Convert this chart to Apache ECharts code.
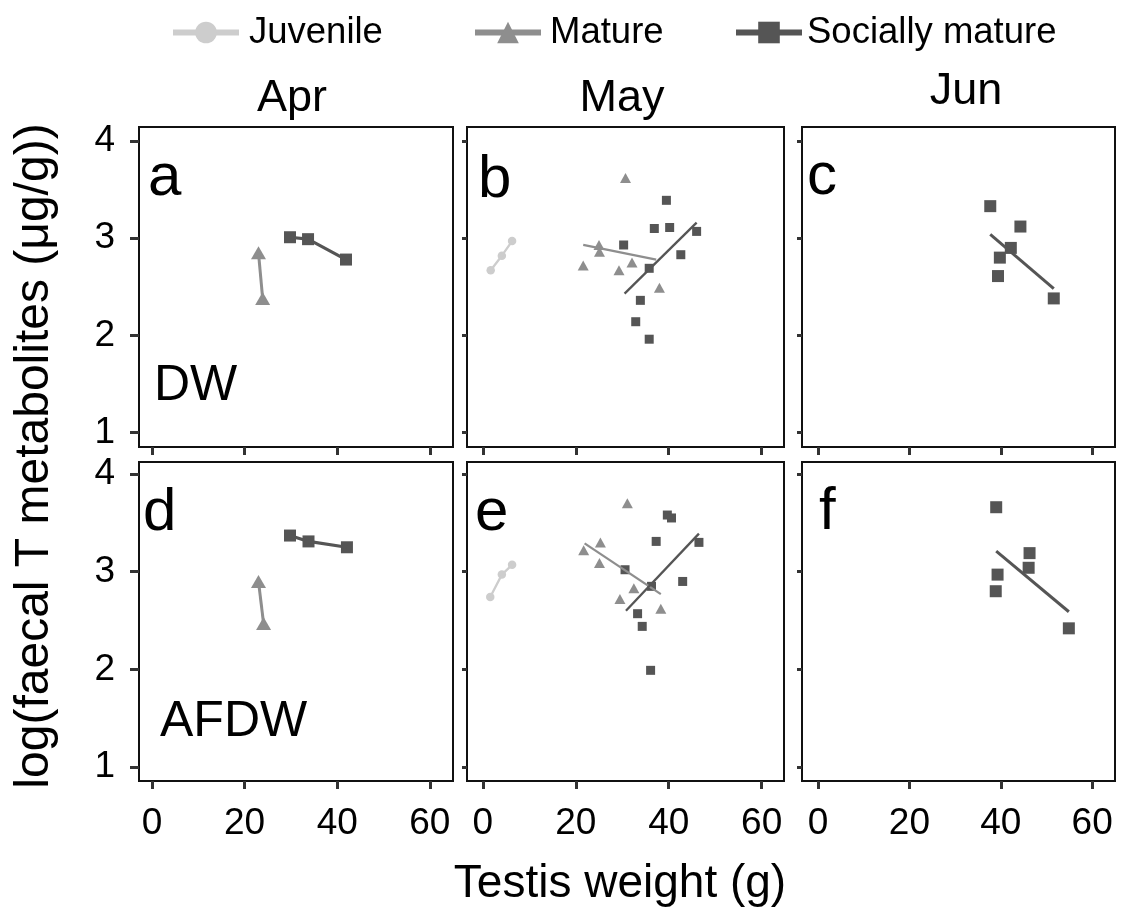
<!DOCTYPE html>
<html>
<head>
<meta charset="utf-8">
<script src="https://cdn.jsdelivr.net/npm/echarts@6/dist/echarts.min.js"></script>
<style>
html,body{margin:0;padding:0;background:#fff;}
#chart{width:1122px;height:923px;}
</style>
</head>
<body>
<div id="chart"></div>
<script>
// ---------------- DATA ----------------
const months = ['Apr', 'May', 'Jun'];
const groups = ['Juvenile', 'Mature', 'Socially mature'];
const xTicks = [0, 20, 40, 60];
const yTicks = [1, 2, 3, 4];
const panelLetters = ['a', 'b', 'c', 'd', 'e', 'f'];
const rowLabels = ['DW', 'AFDW'];

// Panel a (Apr, DW)
const aMatX = [23.0, 23.9];
const aMatY = [2.85, 2.38];
const aSocX = [29.8, 33.7, 41.9];
const aSocY = [3.01, 2.99, 2.78];

// Panel b (May, DW)
const bJuvX = [1.7, 4.1, 6.3];
const bJuvY = [2.67, 2.82, 2.97];
const bMatX = [30.7, 25.0, 25.1, 21.6, 29.3, 32.1, 38.0];
const bMatY = [3.62, 2.93, 2.86, 2.72, 2.67, 2.75, 2.49];
const bMatFitX = [21.6, 37.3];
const bMatFitY = [2.93, 2.78];
const bSocX = [39.5, 36.9, 40.2, 46.0, 30.3, 42.6, 35.8, 33.9, 32.9, 35.8];
const bSocY = [3.39, 3.10, 3.11, 3.07, 2.93, 2.83, 2.69, 2.36, 2.14, 1.96];
const bSocFitX = [30.5, 46.0];
const bSocFitY = [2.43, 3.16];

// Panel c (Jun, DW)
const cSocX = [37.7, 44.3, 42.2, 39.8, 39.4, 51.6];
const cSocY = [3.33, 3.12, 2.90, 2.80, 2.61, 2.38];
const cSocFitX = [37.7, 51.6];
const cSocFitY = [3.04, 2.48];

// Panel d (Apr, AFDW)
const dMatX = [23.0, 24.1];
const dMatY = [2.90, 2.47];
const dSocX = [29.8, 33.8, 42.1];
const dSocY = [3.37, 3.31, 3.25];

// Panel e (May, AFDW)
const eJuvX = [1.6, 4.1, 6.3];
const eJuvY = [2.74, 2.97, 3.07];
const eMatX = [31.1, 25.3, 21.7, 25.1, 32.5, 29.5, 38.3];
const eMatY = [3.70, 3.30, 3.22, 3.09, 2.83, 2.72, 2.62];
const eMatFitX = [21.9, 38.3];
const eMatFitY = [3.29, 2.77];
const eSocX = [39.7, 40.6, 37.3, 46.5, 30.6, 36.3, 43.0, 33.3, 34.3, 36.1];
const eSocY = [3.58, 3.55, 3.31, 3.30, 3.02, 2.85, 2.90, 2.57, 2.44, 1.99];
const eSocFitX = [30.8, 46.5];
const eSocFitY = [2.60, 3.39];

// Panel f (Jun, AFDW)
const fSocX = [39.0, 46.3, 46.1, 39.3, 38.9, 54.9];
const fSocY = [3.66, 3.19, 3.04, 2.97, 2.80, 2.42];
const fSocFitX = [39.0, 54.9];
const fSocFitY = [3.21, 2.59];

// ---------------- STYLE / LAYOUT ----------------
const FONT = "'Liberation Sans', Arial, Helvetica, sans-serif";
const COL = { Juvenile: '#cdcdcd', Mature: '#8e8e8e', 'Socially mature': '#555555' };
const SYM = { Juvenile: 'circle', Mature: 'triangle', 'Socially mature': 'rect' };

const cols = [
  { left: 139, width: 314, xmin: -2.8, xmax: 65.0, ytick: 9 },
  { left: 467, width: 317, xmin: -3.4, xmax: 64.8, ytick: 5 },
  { left: 802, width: 313, xmin: -3.5, xmax: 65.0, ytick: 5 }
];
const rows = [
  { top: 127, height: 320, ymin: 0.85, ymax: 4.145 },
  { top: 462, height: 319, ymin: 0.857, ymax: 4.123 }
];

function pts(xs, ys) { return xs.map((x, i) => [x, ys[i]]); }

const panels = [
  { points: [['Mature', aMatX, aMatY, [15, 13]], ['Socially mature', aSocX, aSocY, 12]],
    lines: [['Mature', aMatX, aMatY, 3], ['Socially mature', aSocX, aSocY, 3.2]], linesOnTop: false },
  { points: [['Juvenile', bJuvX, bJuvY, 8.5], ['Mature', bMatX, bMatY, [11, 10]], ['Socially mature', bSocX, bSocY, 9]],
    lines: [['Juvenile', bJuvX, bJuvY, 2.3], ['Mature', bMatFitX, bMatFitY, 2.3], ['Socially mature', bSocFitX, bSocFitY, 2.3]], linesOnTop: true },
  { points: [['Socially mature', cSocX, cSocY, 12]],
    lines: [['Socially mature', cSocFitX, cSocFitY, 3]], linesOnTop: true },
  { points: [['Mature', dMatX, dMatY, [15, 13]], ['Socially mature', dSocX, dSocY, 12]],
    lines: [['Mature', dMatX, dMatY, 3], ['Socially mature', dSocX, dSocY, 3.2]], linesOnTop: false },
  { points: [['Juvenile', eJuvX, eJuvY, 8.5], ['Mature', eMatX, eMatY, [11, 10]], ['Socially mature', eSocX, eSocY, 9]],
    lines: [['Juvenile', eJuvX, eJuvY, 2.3], ['Mature', eMatFitX, eMatFitY, 2.3], ['Socially mature', eSocFitX, eSocFitY, 2.3]], linesOnTop: true },
  { points: [['Socially mature', fSocX, fSocY, 12]],
    lines: [['Socially mature', fSocFitX, fSocFitY, 3]], linesOnTop: true }
];

const grids = [], xAxes = [], yAxes = [], series = [];

// dummy series for legend
groups.forEach(g => {
  series.push({
    name: g, type: 'line', xAxisIndex: 0, yAxisIndex: 0, data: [],
    symbol: SYM[g], symbolSize: 20,
    itemStyle: { color: COL[g] }, lineStyle: { color: COL[g], width: 6 }
  });
});

panels.forEach((p, i) => {
  const r = Math.floor(i / 3), c = i % 3;
  const col = cols[c], row = rows[r];
  grids.push({
    left: col.left, top: row.top, width: col.width, height: row.height,
    show: true, borderColor: '#111', borderWidth: 2, backgroundColor: '#fff'
  });
  xAxes.push({
    type: 'value', gridIndex: i, min: col.xmin, max: col.xmax, position: 'bottom',
    axisLine: { show: false, onZero: false }, splitLine: { show: false },
    axisTick: { show: true, customValues: xTicks, length: 8, lineStyle: { color: '#333', width: 3 } },
    axisLabel: { show: r === 1, customValues: xTicks, fontSize: 37, fontFamily: FONT, color: '#000', margin: 24 }
  });
  yAxes.push({
    type: 'value', gridIndex: i, min: row.ymin, max: row.ymax, position: 'left',
    axisLine: { show: false, onZero: false }, splitLine: { show: false },
    axisTick: { show: true, customValues: yTicks, length: col.ytick, lineStyle: { color: '#333', width: 3 } },
    axisLabel: { show: c === 0, customValues: yTicks, fontSize: 37, fontFamily: FONT, color: '#000', margin: 24 }
  });
  const pointSeries = p.points.map(([g, xs, ys, size]) => ({
    name: g + ' ' + panelLetters[i], type: 'scatter', xAxisIndex: i, yAxisIndex: i,
    data: pts(xs, ys), symbol: SYM[g], symbolSize: size,
    itemStyle: { color: COL[g], opacity: 1 }, silent: true
  }));
  const lineSeries = p.lines.map(([g, xs, ys, w]) => ({
    name: g + ' line ' + panelLetters[i], type: 'line', xAxisIndex: i, yAxisIndex: i,
    data: pts(xs, ys), showSymbol: false, symbol: 'none',
    lineStyle: { color: COL[g], width: w }, silent: true
  }));
  if (p.linesOnTop) { series.push(...pointSeries, ...lineSeries); }
  else { series.push(...lineSeries, ...pointSeries); }
});

// legends (one per item for exact placement)
const legendLefts = [170, 472, 733];
const legendPads = [5, 4, 0];
const legends = groups.map((g, k) => ({
  left: legendLefts[k], top: 14, padding: 0, selectedMode: false,
  data: [g], itemWidth: 66, itemHeight: 27,
  lineStyle: { width: 6 },
  textStyle: { fontSize: 36.5, fontFamily: FONT, color: '#000', padding: [0, 0, 0, legendPads[k]] }
}));

const graphics = [];
const monthX = [292, 622, 966];
const monthY = [99, 99, 92];
months.forEach((m, k) => graphics.push({
  type: 'text', x: monthX[k], y: monthY[k],
  style: { text: m, fontSize: 45, fontFamily: FONT, fill: '#000', align: 'center', verticalAlign: 'middle' }
}));
const letterPos = [[148, 178], [478, 180], [807, 177], [143, 513], [475, 513], [819, 512]];
panelLetters.forEach((l, k) => graphics.push({
  type: 'text', x: letterPos[k][0], y: letterPos[k][1],
  style: { text: l, fontSize: 60, fontFamily: FONT, fill: '#000', align: 'left', verticalAlign: 'middle' }
}));
const rowLabelPos = [[154, 386], [160, 722]];
rowLabels.forEach((t, k) => graphics.push({
  type: 'text', x: rowLabelPos[k][0], y: rowLabelPos[k][1],
  style: { text: t, fontSize: 50, fontFamily: FONT, fill: '#000', align: 'left', verticalAlign: 'middle' }
}));
graphics.push({
  type: 'text', x: 620, y: 884,
  style: { text: 'Testis weight (g)', fontSize: 46, fontFamily: FONT, fill: '#000', align: 'center', verticalAlign: 'middle' }
});
graphics.push({
  type: 'text', x: 35, y: 456, rotation: Math.PI / 2,
  style: { text: 'log(faecal T metabolites (μg/g))', fontSize: 48, fontFamily: FONT, fill: '#000', align: 'center', verticalAlign: 'middle' }
});

const chart = echarts.init(document.getElementById('chart'), null, { renderer: 'canvas' });
chart.setOption({
  animation: false,
  backgroundColor: '#fff',
  legend: legends,
  grid: grids,
  xAxis: xAxes,
  yAxis: yAxes,
  series: series,
  graphic: graphics
});
</script>
</body>
</html>
